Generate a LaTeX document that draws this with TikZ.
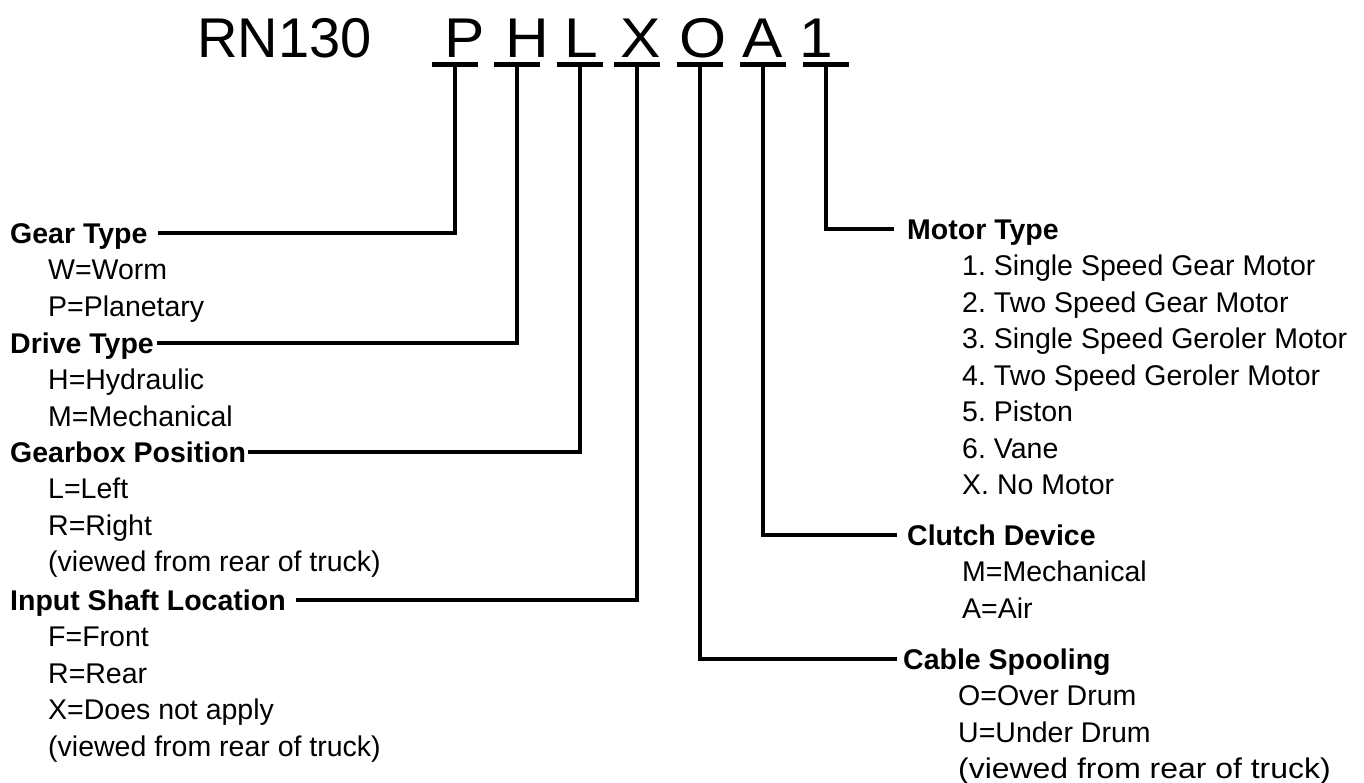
\documentclass[tikz,border=0pt]{standalone}
\usepackage{fontspec}
\setmainfont{Liberation Sans}
\frenchspacing
\begin{document}
\begin{tikzpicture}[x=1pt,y=-1pt,
  txt/.style={anchor=west,inner sep=0pt,text height=20.4pt,text depth=0pt,font=\fontsize{28.5}{34}\selectfont},
  hdr/.style={txt,font=\fontsize{28.5}{34}\selectfont\bfseries},
  ttl/.style={anchor=base,inner sep=0pt,font=\fontsize{56}{60}\selectfont},
  conn/.style={line width=4pt},
  barline/.style={line width=5pt}]
\path[use as bounding box] (0,0) rectangle (1364,783);

% title
\node[ttl,anchor=base west] (rn) at (197,58) {RN130};
\node[ttl] (lP) at (465,58) {\scalebox{1.08}[1]{P}};
\node[ttl] (lH) at (527,58) {\scalebox{1.08}[1]{H}};
\node[ttl] (lL) at (581,58) {\scalebox{1.08}[1]{L}};
\node[ttl] (lX) at (641,58) {\scalebox{1.08}[1]{X}};
\node[ttl] (lO) at (703,58) {\scalebox{1.08}[1]{O}};
\node[ttl] (lA) at (763,58) {\scalebox{1.08}[1]{A}};
\node[ttl] (lOne) at (816,58) {\scalebox{1.08}[1]{1}};

% bars
\foreach \n/\x in {P/455,H/517,L/580,X/637,O/700,A/763,One/826}{
  \coordinate (b\n) at (\x,64.5);
  \draw[barline] (\x-23,64.5) -- (\x+23,64.5);
}

% left headings and items
\node[hdr] (gear) at (10,233) {Gear Type};
\node[txt] (g1) at (48,269.5) {W=Worm};
\node[txt] (g2) at (48,306) {P=Planetary};

\node[hdr] (drive) at (10,343) {Drive Type};
\node[txt] (d1) at (48,379.5) {H=Hydraulic};
\node[txt] (d2) at (48,416) {M=Mechanical};

\node[hdr] (gbox) at (10,452) {Gearbox Position};
\node[txt] (p1) at (48,488.5) {L=Left};
\node[txt] (p2) at (48,525) {R=Right};
\node[txt] (p3) at (48,561.5) {(viewed from rear of truck)};

\node[hdr] (shaft) at (10,600) {Input Shaft Location};
\node[txt] (s1) at (48,636.5) {F=Front};
\node[txt] (s2) at (48,673) {R=Rear};
\node[txt] (s3) at (48,709.5) {X=Does not apply};
\node[txt] (s4) at (48,746) {(viewed from rear of truck)};

% right headings and items
\node[hdr] (motor) at (907,229) {Motor Type};
\node[txt] (m1) at (962,265.5) {1. Single Speed Gear Motor};
\node[txt] (m2) at (962,302) {2. Two Speed Gear Motor};
\node[txt] (m3) at (962,338.5) {3. Single Speed Geroler Motor};
\node[txt] (m4) at (962,375) {4. Two Speed Geroler Motor};
\node[txt] (m5) at (962,411.5) {5. Piston};
\node[txt] (m6) at (962,448) {6. Vane};
\node[txt] (m7) at (962,484.5) {X. No Motor};

\node[hdr] (clutch) at (907,535) {Clutch Device};
\node[txt] (c1) at (962,571.5) {M=Mechanical};
\node[txt] (c2) at (962,608) {A=Air};

\node[hdr] (cable) at (903,659) {Cable Spooling};
\node[txt] (k1) at (958,695.5) {O=Over Drum};
\node[txt] (k2) at (958,732) {U=Under Drum};
\node[txt] (k3) at (958,768.5) {\scalebox{1.12}[1]{(viewed from rear of truck)}};

% connectors
\draw[conn] (bP) |- ([xshift=10pt]gear.east);
\draw[conn] (bH) |- ([xshift=3pt]drive.east);
\draw[conn] (bL) |- ([xshift=2pt]gbox.east);
\draw[conn] (bX) |- ([xshift=10pt]shaft.east);
\draw[conn] (bO) |- ([xshift=-6pt]cable.west);
\draw[conn] (bA) |- ([xshift=-10pt]clutch.west);
\draw[conn] (bOne) |- ([xshift=-13pt]motor.west);
\end{tikzpicture}
\end{document}
